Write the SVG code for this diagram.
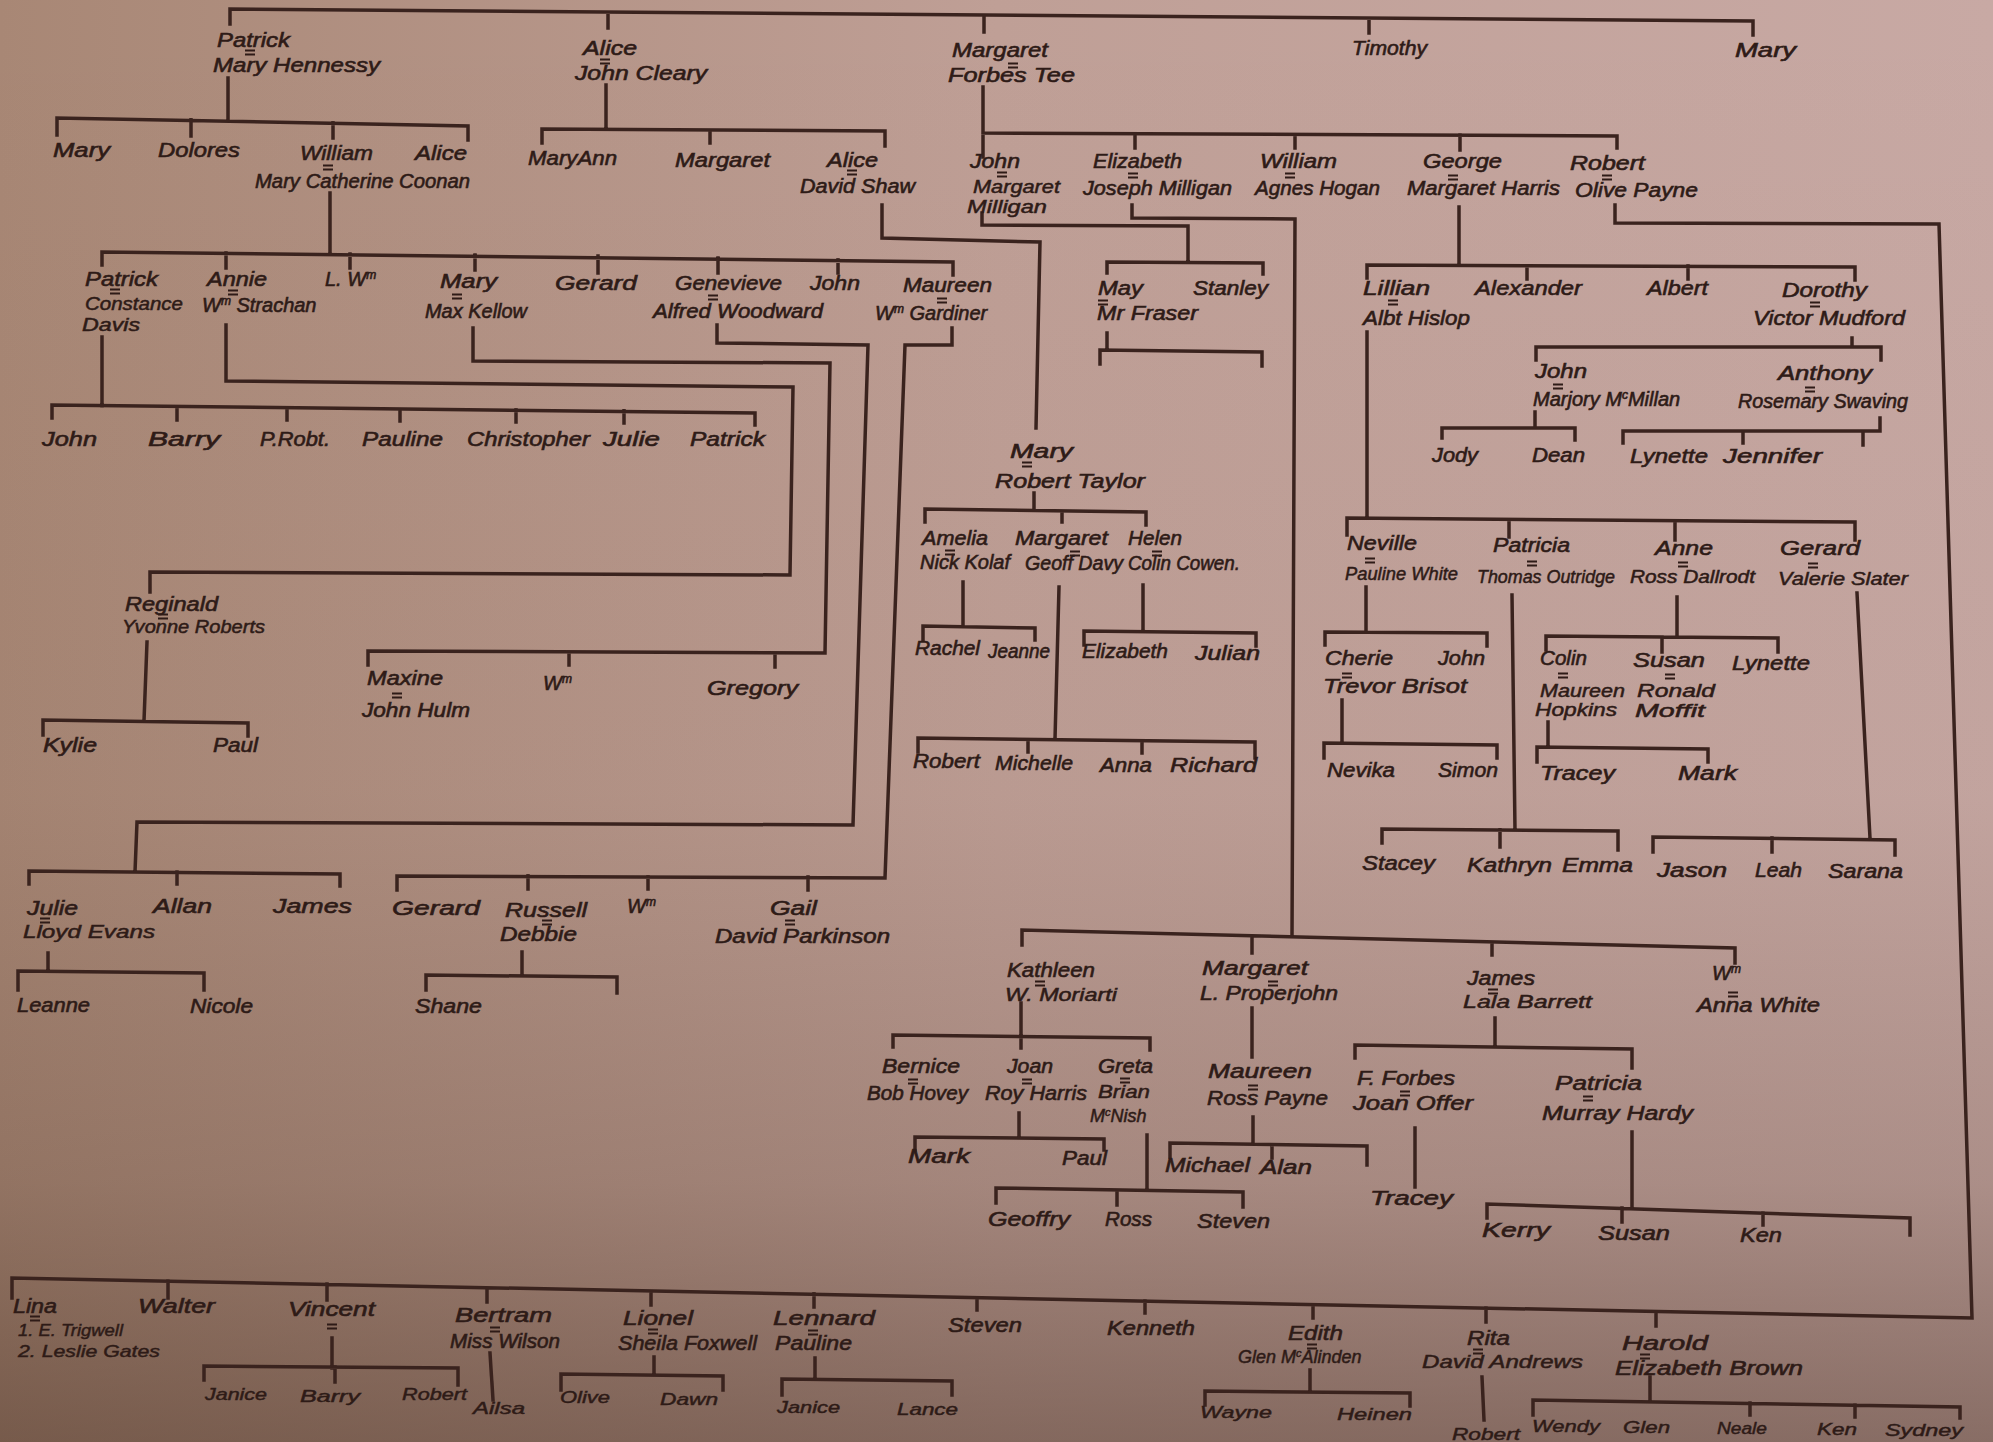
<svg xmlns="http://www.w3.org/2000/svg" xmlns:xlink="http://www.w3.org/1999/xlink" width="1993" height="1442" viewBox="0 0 1993 1442">
<defs>
<linearGradient id="bgH" x1="0" x2="1" y1="0" y2="0"><stop offset="0" stop-color="#a88775"/><stop offset="0.5" stop-color="#bf9f96"/><stop offset="1" stop-color="#c8a9a4"/></linearGradient>
<linearGradient id="bgV" x1="0" x2="0" y1="0" y2="1"><stop offset="0" stop-color="#3a2418" stop-opacity="0"/><stop offset="0.55" stop-color="#3a2418" stop-opacity="0.04"/><stop offset="0.82" stop-color="#3a2418" stop-opacity="0.2"/><stop offset="1" stop-color="#3a2418" stop-opacity="0.45"/></linearGradient>
<path id="eq" d="M-5,-2.5 h10 M-5,1.5 h10" fill="none" stroke="#2e1b17" stroke-width="2.2"/>
<style>
text{font-family:"Liberation Sans",Arial,sans-serif;font-style:italic;font-size:20px;fill:#2e1b17;stroke:#2e1b17;stroke-width:0.6}
text.s{font-size:16px;stroke-width:0.45}
text.t{font-size:18px;stroke-width:0.5}
#connectors path{fill:none;stroke:#3a231e;stroke-width:3.5;stroke-linecap:square;stroke-linejoin:miter}
</style>
</defs>
<rect width="1993" height="1442" fill="url(#bgH)"/>
<rect width="1993" height="1442" fill="url(#bgV)"/>

<g id="connectors">
<path d="M230,24 V9 L1753,21 V35 M608,15 V28 M984,17 V32 M1369,19 V33"/>
<path d="M228,78 V121 M57,135 V118 L468,126 V140 M191,120 V136 M333,123 V138"/>
<path d="M330,193 V253 M102,265 V252 L953,262 V275 M226,253 V268 M350,254 V268 M475,255 V270 M598,256 V273 M718,258 V273 M838,260 V273"/>
<path d="M102,337 V406 M52,418 V405 L755,413 V425 M177,407 V420 M287,408 V420 M400,409 V421 M516,410 V422 M624,411 V423"/>
<path d="M226,325 V381 L793,387 L790,575 L150,572 V592"/>
<path d="M147,642 L144,721 M43,735 V720 L248,723 V736"/>
<path d="M473,328 V361 L830,363 L825,653 L368,651 V665 M569,652 V665 M775,653 V667"/>
<path d="M717,325 V343 L868,345 L853,825 L137,822 L135,872 M29,884 V871 L340,874 V886 M177,872 V884"/>
<path d="M48,953 V971 M18,990 V971 L204,973 V990"/>
<path d="M952,328 V345 L905,345 L885,878 L397,876 V890 M528,876 V889 M648,877 V889 M808,877 V890"/>
<path d="M522,952 V974 M426,990 V975 L617,977 V993"/>
<path d="M606,85 V129 M542,143 V129 L885,131 V146 M710,130 V143"/>
<path d="M882,205 V238 L1040,242 L1036,428"/>
<path d="M1034,493 V510 M925,522 V509 L1146,512 V525 M1062,511 V522"/>
<path d="M963,582 V626 M923,640 V626 L1035,628 V640"/>
<path d="M1059,587 L1055,739 M918,752 V738 L1255,742 V758 M1028,740 V752 M1142,741 V753"/>
<path d="M1143,585 V631 M1084,645 V631 L1256,633 V646"/>
<path d="M983,87 V157 M983,133 L1617,136 V148 M1135,134 V148 M1295,135 V148 M1460,135 V150"/>
<path d="M982,213 V225 L1188,226 V261 M1107,273 V262 L1263,263 V274"/>
<path d="M1107,333 V350 M1100,364 V350 L1262,352 V366"/>
<path d="M1132,205 V218 L1295,219 L1292,937 M1022,945 V930 L1735,948 V963 M1252,936 V953 M1492,942 V955"/>
<path d="M1459,207 V265 M1367,278 V265 L1855,267 V280 M1527,266 V279 M1688,266 V279"/>
<path d="M1852,338 V347 M1536,360 V347 L1881,347 V360"/>
<path d="M1535,412 V428 M1442,438 V428 L1575,428 V440"/>
<path d="M1880,418 V431 M1623,443 V431 L1880,431 M1743,431 V443 M1863,431 V445"/>
<path d="M1615,205 V223 L1939,224 L1972,1318 L12,1278 V1298 M168,1281 V1298 M327,1284 V1300 M487,1288 V1302 M651,1291 V1305 M814,1294 V1307 M977,1298 V1310 M1145,1301 V1313 M1313,1305 V1318 M1486,1308 V1322 M1656,1312 V1326"/>
<path d="M1367,332 V518 M1347,535 V518 L1855,522 V540 M1509,520 V537 M1675,521 V540"/>
<path d="M1366,587 V632 M1325,645 V632 L1487,633 V646"/>
<path d="M1342,700 V742 M1324,758 V743 L1497,745 V758"/>
<path d="M1512,595 L1515,830 M1382,843 V829 L1618,831 V850 M1500,830 V847"/>
<path d="M1677,597 V636 M1546,650 V636 L1778,638 V652 M1662,637 V652"/>
<path d="M1548,722 V747 M1537,762 V747 L1708,749 V762"/>
<path d="M1857,593 L1870,838 M1653,852 V837 L1895,840 V855 M1772,838 V852"/>
<path d="M1021,1003 V1037 M893,1047 V1035 L1150,1038 V1050 M1021,1037 V1048"/>
<path d="M1019,1113 V1137 M915,1150 V1137 L1104,1139 V1150"/>
<path d="M1147,1135 V1189 M996,1203 V1188 L1243,1192 V1207 M1117,1190 V1205"/>
<path d="M1252,1008 V1057"/>
<path d="M1253,1117 V1144 M1170,1157 V1143 L1367,1146 V1165 M1272,1145 V1158"/>
<path d="M1495,1018 V1046 M1355,1058 V1045 L1632,1049 V1068"/>
<path d="M1415,1128 V1187"/>
<path d="M1632,1132 V1207 M1487,1218 V1204 L1910,1218 V1235 M1622,1208 V1222 M1763,1213 V1225"/>
<path d="M332,1338 V1368 M204,1380 V1366 L458,1368 V1385 M335,1367 V1382"/>
<path d="M490,1353 L493,1400"/>
<path d="M654,1357 V1374 M561,1390 V1374 L723,1376 V1390"/>
<path d="M815,1358 V1379 M782,1395 V1379 L952,1381 V1395"/>
<path d="M1310,1370 V1391 M1205,1405 V1391 L1410,1393 V1406"/>
<path d="M1482,1377 L1484,1420"/>
<path d="M1650,1377 V1401 M1533,1415 V1400 L1960,1407 V1418 M1750,1403 V1415 M1855,1405 V1417"/>
</g>

<g id="n-patrick-hennessy"><text x="217" y="47" textLength="73" lengthAdjust="spacingAndGlyphs">Patrick</text><use xlink:href="#eq" href="#eq" x="250" y="53"/><text x="213" y="72" textLength="167" lengthAdjust="spacingAndGlyphs">Mary Hennessy</text></g>
<g id="n-alice-cleary"><text x="583" y="55" textLength="54" lengthAdjust="spacingAndGlyphs">Alice</text><use href="#eq" x="605" y="62"/><text x="575" y="80" textLength="132" lengthAdjust="spacingAndGlyphs">John Cleary</text></g>
<g id="n-margaret-tee"><text x="952" y="57" textLength="96" lengthAdjust="spacingAndGlyphs">Margaret</text><use href="#eq" x="1013" y="66"/><text x="948" y="82" textLength="127" lengthAdjust="spacingAndGlyphs">Forbes Tee</text></g>
<g id="n-timothy"><text x="1352" y="55" textLength="75" lengthAdjust="spacingAndGlyphs">Timothy</text></g>
<g id="n-mary-top"><text x="1735" y="57" textLength="61" lengthAdjust="spacingAndGlyphs">Mary</text></g>

<g id="n-mary-2"><text x="53" y="157" textLength="57" lengthAdjust="spacingAndGlyphs">Mary</text></g>
<g id="n-dolores"><text x="158" y="157" textLength="82" lengthAdjust="spacingAndGlyphs">Dolores</text></g>
<g id="n-william-coonan"><text x="300" y="160" textLength="73" lengthAdjust="spacingAndGlyphs">William</text><use href="#eq" x="328" y="168"/><text x="255" y="188" textLength="215" lengthAdjust="spacingAndGlyphs">Mary Catherine Coonan</text></g>
<g id="n-alice-2"><text x="415" y="160" textLength="52" lengthAdjust="spacingAndGlyphs">Alice</text></g>

<g id="n-maryann"><text x="528" y="165" textLength="89" lengthAdjust="spacingAndGlyphs">MaryAnn</text></g>
<g id="n-margaret-2"><text x="675" y="167" textLength="95" lengthAdjust="spacingAndGlyphs">Margaret</text></g>
<g id="n-alice-shaw"><text x="827" y="167" textLength="51" lengthAdjust="spacingAndGlyphs">Alice</text><use href="#eq" x="852" y="173"/><text x="800" y="193" textLength="115" lengthAdjust="spacingAndGlyphs">David Shaw</text></g>

<g id="n-john-milligan"><text x="970" y="168" textLength="50" lengthAdjust="spacingAndGlyphs">John</text><use href="#eq" x="1002" y="175"/><text class="t" x="973" y="193" textLength="87" lengthAdjust="spacingAndGlyphs">Margaret</text><text class="t" x="967" y="213" textLength="80" lengthAdjust="spacingAndGlyphs">Milligan</text></g>
<g id="n-elizabeth-milligan"><text x="1093" y="168" textLength="89" lengthAdjust="spacingAndGlyphs">Elizabeth</text><use href="#eq" x="1133" y="176"/><text x="1083" y="195" textLength="149" lengthAdjust="spacingAndGlyphs">Joseph Milligan</text></g>
<g id="n-william-hogan"><text x="1260" y="168" textLength="77" lengthAdjust="spacingAndGlyphs">William</text><use href="#eq" x="1290" y="176"/><text x="1255" y="195" textLength="125" lengthAdjust="spacingAndGlyphs">Agnes Hogan</text></g>
<g id="n-george-harris"><text x="1423" y="168" textLength="79" lengthAdjust="spacingAndGlyphs">George</text><use href="#eq" x="1453" y="178"/><text x="1407" y="195" textLength="153" lengthAdjust="spacingAndGlyphs">Margaret Harris</text></g>
<g id="n-robert-payne"><text x="1570" y="170" textLength="75" lengthAdjust="spacingAndGlyphs">Robert</text><use href="#eq" x="1607" y="178"/><text x="1575" y="197" textLength="123" lengthAdjust="spacingAndGlyphs">Olive Payne</text></g>

<g id="n-patrick-davis"><text x="85" y="286" textLength="73" lengthAdjust="spacingAndGlyphs">Patrick</text><use href="#eq" x="115" y="292"/><text class="t" x="85" y="310" textLength="98" lengthAdjust="spacingAndGlyphs">Constance</text><text class="t" x="82" y="331" textLength="58" lengthAdjust="spacingAndGlyphs">Davis</text></g>
<g id="n-annie-strachan"><text x="207" y="286" textLength="60" lengthAdjust="spacingAndGlyphs">Annie</text><use href="#eq" x="233" y="293"/><text x="202" y="312">W<tspan dy="-7" font-size="12">m</tspan><tspan dy="7"> Strachan</tspan></text></g>
<g id="n-l-wm"><text x="325" y="286">L. W<tspan dy="-7" font-size="12">m</tspan></text></g>
<g id="n-mary-kellow"><text x="440" y="288" textLength="57" lengthAdjust="spacingAndGlyphs">Mary</text><use href="#eq" x="457" y="297"/><text x="425" y="318" textLength="102" lengthAdjust="spacingAndGlyphs">Max Kellow</text></g>
<g id="n-gerard-3"><text x="555" y="290" textLength="82" lengthAdjust="spacingAndGlyphs">Gerard</text></g>
<g id="n-genevieve-woodward"><text x="675" y="290" textLength="107" lengthAdjust="spacingAndGlyphs">Genevieve</text><use href="#eq" x="713" y="298"/><text x="653" y="318" textLength="170" lengthAdjust="spacingAndGlyphs">Alfred Woodward</text></g>
<g id="n-john-3"><text x="810" y="290" textLength="50" lengthAdjust="spacingAndGlyphs">John</text></g>
<g id="n-maureen-gardiner"><text x="903" y="292" textLength="89" lengthAdjust="spacingAndGlyphs">Maureen</text><use href="#eq" x="942" y="301"/><text x="875" y="320">W<tspan dy="-7" font-size="12">m</tspan><tspan dy="7"> Gardiner</tspan></text></g>

<g id="n-john-4"><text x="42" y="446" textLength="55" lengthAdjust="spacingAndGlyphs">John</text></g>
<g id="n-barry-4"><text x="148" y="446" textLength="72" lengthAdjust="spacingAndGlyphs">Barry</text></g>
<g id="n-probt"><text x="260" y="446" textLength="70" lengthAdjust="spacingAndGlyphs">P.Robt.</text></g>
<g id="n-pauline-4"><text x="362" y="446" textLength="81" lengthAdjust="spacingAndGlyphs">Pauline</text></g>
<g id="n-christopher"><text x="467" y="446" textLength="123" lengthAdjust="spacingAndGlyphs">Christopher</text></g>
<g id="n-julie-4"><text x="603" y="446" textLength="57" lengthAdjust="spacingAndGlyphs">Julie</text></g>
<g id="n-patrick-4"><text x="690" y="446" textLength="75" lengthAdjust="spacingAndGlyphs">Patrick</text></g>

<g id="n-reginald-roberts"><text x="125" y="611" textLength="93" lengthAdjust="spacingAndGlyphs">Reginald</text><use href="#eq" x="163" y="617"/><text class="t" x="122" y="633" textLength="143" lengthAdjust="spacingAndGlyphs">Yvonne Roberts</text></g>
<g id="n-kylie"><text x="43" y="752" textLength="54" lengthAdjust="spacingAndGlyphs">Kylie</text></g>
<g id="n-paul-5"><text x="213" y="752" textLength="45" lengthAdjust="spacingAndGlyphs">Paul</text></g>

<g id="n-maxine-hulm"><text x="367" y="685" textLength="76" lengthAdjust="spacingAndGlyphs">Maxine</text><use href="#eq" x="397" y="696"/><text x="362" y="717" textLength="108" lengthAdjust="spacingAndGlyphs">John Hulm</text></g>
<g id="n-wm-kellow"><text x="543" y="690">W<tspan dy="-7" font-size="12">m</tspan></text></g>
<g id="n-gregory"><text x="707" y="695" textLength="91" lengthAdjust="spacingAndGlyphs">Gregory</text></g>

<g id="n-julie-evans"><text x="27" y="915" textLength="51" lengthAdjust="spacingAndGlyphs">Julie</text><use href="#eq" x="45" y="921"/><text class="t" x="23" y="938" textLength="132" lengthAdjust="spacingAndGlyphs">Lloyd Evans</text></g>
<g id="n-allan"><text x="153" y="913" textLength="59" lengthAdjust="spacingAndGlyphs">Allan</text></g>
<g id="n-james-4"><text x="273" y="913" textLength="79" lengthAdjust="spacingAndGlyphs">James</text></g>
<g id="n-leanne"><text x="17" y="1012" textLength="73" lengthAdjust="spacingAndGlyphs">Leanne</text></g>
<g id="n-nicole"><text x="190" y="1013" textLength="63" lengthAdjust="spacingAndGlyphs">Nicole</text></g>

<g id="n-gerard-4"><text x="392" y="915" textLength="88" lengthAdjust="spacingAndGlyphs">Gerard</text></g>
<g id="n-russell-debbie"><text x="505" y="917" textLength="82" lengthAdjust="spacingAndGlyphs">Russell</text><use href="#eq" x="547" y="923"/><text x="500" y="941" textLength="77" lengthAdjust="spacingAndGlyphs">Debbie</text></g>
<g id="n-wm-gardiner-child"><text x="627" y="913">W<tspan dy="-7" font-size="12">m</tspan></text></g>
<g id="n-gail-parkinson"><text x="770" y="915" textLength="47" lengthAdjust="spacingAndGlyphs">Gail</text><use href="#eq" x="790" y="923"/><text x="715" y="943" textLength="175" lengthAdjust="spacingAndGlyphs">David Parkinson</text></g>
<g id="n-shane"><text x="415" y="1013" textLength="67" lengthAdjust="spacingAndGlyphs">Shane</text></g>

<g id="n-mary-taylor"><text x="1010" y="458" textLength="63" lengthAdjust="spacingAndGlyphs">Mary</text><use href="#eq" x="1027" y="465"/><text x="995" y="488" textLength="150" lengthAdjust="spacingAndGlyphs">Robert Taylor</text></g>
<g id="n-amelia-kolaf"><text x="922" y="545" textLength="66" lengthAdjust="spacingAndGlyphs">Amelia</text><use href="#eq" x="950" y="553"/><text x="920" y="569" textLength="90" lengthAdjust="spacingAndGlyphs">Nick Kolaf</text></g>
<g id="n-margaret-davy"><text x="1015" y="545" textLength="93" lengthAdjust="spacingAndGlyphs">Margaret</text><use href="#eq" x="1075" y="554"/><text x="1025" y="570" textLength="98" lengthAdjust="spacingAndGlyphs">Geoff Davy</text></g>
<g id="n-helen-cowen"><text x="1128" y="545" textLength="54" lengthAdjust="spacingAndGlyphs">Helen</text><use href="#eq" x="1157" y="554"/><text x="1128" y="570" textLength="112" lengthAdjust="spacingAndGlyphs">Colin Cowen.</text></g>
<g id="n-rachel"><text x="915" y="655" textLength="65" lengthAdjust="spacingAndGlyphs">Rachel</text></g>
<g id="n-jeanne"><text x="988" y="658" textLength="62" lengthAdjust="spacingAndGlyphs">Jeanne</text></g>
<g id="n-elizabeth-6"><text x="1082" y="658" textLength="86" lengthAdjust="spacingAndGlyphs">Elizabeth</text></g>
<g id="n-julian"><text x="1195" y="660" textLength="65" lengthAdjust="spacingAndGlyphs">Julian</text></g>
<g id="n-robert-6"><text x="913" y="768" textLength="67" lengthAdjust="spacingAndGlyphs">Robert</text></g>
<g id="n-michelle"><text x="995" y="770" textLength="78" lengthAdjust="spacingAndGlyphs">Michelle</text></g>
<g id="n-anna"><text x="1100" y="772" textLength="52" lengthAdjust="spacingAndGlyphs">Anna</text></g>
<g id="n-richard"><text x="1170" y="772" textLength="87" lengthAdjust="spacingAndGlyphs">Richard</text></g>

<g id="n-may-fraser"><text x="1098" y="295" textLength="45" lengthAdjust="spacingAndGlyphs">May</text><use href="#eq" x="1103" y="303"/><text x="1097" y="320" textLength="101" lengthAdjust="spacingAndGlyphs">Mr Fraser</text></g>
<g id="n-stanley"><text x="1193" y="295" textLength="75" lengthAdjust="spacingAndGlyphs">Stanley</text></g>

<g id="n-lillian-hislop"><text x="1363" y="295" textLength="67" lengthAdjust="spacingAndGlyphs">Lillian</text><use href="#eq" x="1393" y="303"/><text x="1363" y="325" textLength="107" lengthAdjust="spacingAndGlyphs">Albt Hislop</text></g>
<g id="n-alexander"><text x="1475" y="295" textLength="107" lengthAdjust="spacingAndGlyphs">Alexander</text></g>
<g id="n-albert"><text x="1647" y="295" textLength="61" lengthAdjust="spacingAndGlyphs">Albert</text></g>
<g id="n-dorothy-mudford"><text x="1782" y="297" textLength="85" lengthAdjust="spacingAndGlyphs">Dorothy</text><use href="#eq" x="1815" y="305"/><text x="1753" y="325" textLength="152" lengthAdjust="spacingAndGlyphs">Victor Mudford</text></g>
<g id="n-john-mcmillan"><text x="1535" y="378" textLength="52" lengthAdjust="spacingAndGlyphs">John</text><use href="#eq" x="1558" y="387"/><text x="1533" y="406">Marjory M<tspan dy="-7" font-size="12">c</tspan><tspan dy="7">Millan</tspan></text></g>
<g id="n-anthony-swaving"><text x="1778" y="380" textLength="94" lengthAdjust="spacingAndGlyphs">Anthony</text><use href="#eq" x="1810" y="390"/><text x="1738" y="408" textLength="170" lengthAdjust="spacingAndGlyphs">Rosemary Swaving</text></g>
<g id="n-jody"><text x="1432" y="462" textLength="46" lengthAdjust="spacingAndGlyphs">Jody</text></g>
<g id="n-dean"><text x="1532" y="462" textLength="53" lengthAdjust="spacingAndGlyphs">Dean</text></g>
<g id="n-lynette-1"><text x="1630" y="463" textLength="78" lengthAdjust="spacingAndGlyphs">Lynette</text></g>
<g id="n-jennifer"><text x="1723" y="463" textLength="99" lengthAdjust="spacingAndGlyphs">Jennifer</text></g>

<g id="n-neville-white"><text x="1347" y="550" textLength="70" lengthAdjust="spacingAndGlyphs">Neville</text><use href="#eq" x="1370" y="561"/><text class="t" x="1345" y="580" textLength="113" lengthAdjust="spacingAndGlyphs">Pauline White</text></g>
<g id="n-patricia-outridge"><text x="1493" y="552" textLength="77" lengthAdjust="spacingAndGlyphs">Patricia</text><use href="#eq" x="1532" y="564"/><text class="t" x="1477" y="583" textLength="138" lengthAdjust="spacingAndGlyphs">Thomas Outridge</text></g>
<g id="n-anne-dallrodt"><text x="1655" y="555" textLength="58" lengthAdjust="spacingAndGlyphs">Anne</text><use href="#eq" x="1683" y="565"/><text class="t" x="1630" y="583" textLength="125" lengthAdjust="spacingAndGlyphs">Ross Dallrodt</text></g>
<g id="n-gerard-slater"><text x="1780" y="555" textLength="80" lengthAdjust="spacingAndGlyphs">Gerard</text><use href="#eq" x="1813" y="566"/><text class="t" x="1778" y="585" textLength="130" lengthAdjust="spacingAndGlyphs">Valerie Slater</text></g>
<g id="n-cherie-brisot"><text x="1325" y="665" textLength="68" lengthAdjust="spacingAndGlyphs">Cherie</text><use href="#eq" x="1347" y="676"/><text x="1323" y="693" textLength="144" lengthAdjust="spacingAndGlyphs">Trevor Brisot</text></g>
<g id="n-john-6"><text x="1438" y="665" textLength="47" lengthAdjust="spacingAndGlyphs">John</text></g>
<g id="n-nevika"><text x="1327" y="777" textLength="68" lengthAdjust="spacingAndGlyphs">Nevika</text></g>
<g id="n-simon"><text x="1438" y="777" textLength="60" lengthAdjust="spacingAndGlyphs">Simon</text></g>
<g id="n-stacey"><text x="1362" y="870" textLength="73" lengthAdjust="spacingAndGlyphs">Stacey</text></g>
<g id="n-kathryn"><text x="1467" y="872" textLength="85" lengthAdjust="spacingAndGlyphs">Kathryn</text></g>
<g id="n-emma"><text x="1562" y="872" textLength="71" lengthAdjust="spacingAndGlyphs">Emma</text></g>
<g id="n-colin-hopkins"><text x="1540" y="665" textLength="47" lengthAdjust="spacingAndGlyphs">Colin</text><use href="#eq" x="1563" y="676"/><text class="t" x="1540" y="697" textLength="85" lengthAdjust="spacingAndGlyphs">Maureen</text><text class="t" x="1535" y="716" textLength="82" lengthAdjust="spacingAndGlyphs">Hopkins</text></g>
<g id="n-susan-moffit"><text x="1633" y="667" textLength="72" lengthAdjust="spacingAndGlyphs">Susan</text><use href="#eq" x="1670" y="677"/><text class="t" x="1637" y="697" textLength="78" lengthAdjust="spacingAndGlyphs">Ronald</text><text class="t" x="1635" y="717" textLength="70" lengthAdjust="spacingAndGlyphs">Moffit</text></g>
<g id="n-lynette-2"><text x="1732" y="670" textLength="78" lengthAdjust="spacingAndGlyphs">Lynette</text></g>
<g id="n-tracey-1"><text x="1540" y="780" textLength="75" lengthAdjust="spacingAndGlyphs">Tracey</text></g>
<g id="n-mark-1"><text x="1678" y="780" textLength="59" lengthAdjust="spacingAndGlyphs">Mark</text></g>
<g id="n-jason"><text x="1657" y="877" textLength="70" lengthAdjust="spacingAndGlyphs">Jason</text></g>
<g id="n-leah"><text x="1755" y="877" textLength="47" lengthAdjust="spacingAndGlyphs">Leah</text></g>
<g id="n-sarana"><text x="1828" y="878" textLength="75" lengthAdjust="spacingAndGlyphs">Sarana</text></g>

<g id="n-kathleen-moriarti"><text x="1007" y="977" textLength="88" lengthAdjust="spacingAndGlyphs">Kathleen</text><use href="#eq" x="1040" y="984"/><text class="t" x="1005" y="1001" textLength="112" lengthAdjust="spacingAndGlyphs">W. Moriarti</text></g>
<g id="n-margaret-properjohn"><text x="1202" y="975" textLength="106" lengthAdjust="spacingAndGlyphs">Margaret</text><use href="#eq" x="1273" y="984"/><text x="1200" y="1000" textLength="138" lengthAdjust="spacingAndGlyphs">L. Properjohn</text></g>
<g id="n-james-barrett"><text x="1467" y="985" textLength="68" lengthAdjust="spacingAndGlyphs">James</text><use href="#eq" x="1493" y="992"/><text class="t" x="1463" y="1008" textLength="129" lengthAdjust="spacingAndGlyphs">Lala Barrett</text></g>
<g id="n-wm-white"><text x="1712" y="980">W<tspan dy="-7" font-size="12">m</tspan></text><use href="#eq" x="1733" y="995"/><text x="1697" y="1012" textLength="123" lengthAdjust="spacingAndGlyphs">Anna White</text></g>
<g id="n-bernice-hovey"><text x="882" y="1073" textLength="78" lengthAdjust="spacingAndGlyphs">Bernice</text><use href="#eq" x="913" y="1082"/><text x="867" y="1100" textLength="101" lengthAdjust="spacingAndGlyphs">Bob Hovey</text></g>
<g id="n-joan-harris"><text x="1007" y="1073" textLength="46" lengthAdjust="spacingAndGlyphs">Joan</text><use href="#eq" x="1027" y="1082"/><text x="985" y="1100" textLength="102" lengthAdjust="spacingAndGlyphs">Roy Harris</text></g>
<g id="n-greta-mcnish"><text x="1098" y="1073" textLength="55" lengthAdjust="spacingAndGlyphs">Greta</text><use href="#eq" x="1125" y="1081"/><text class="t" x="1098" y="1098" textLength="52" lengthAdjust="spacingAndGlyphs">Brian</text><text class="t" x="1090" y="1122">M<tspan dy="-6" font-size="11">c</tspan><tspan dy="6">Nish</tspan></text></g>
<g id="n-mark-2"><text x="908" y="1163" textLength="62" lengthAdjust="spacingAndGlyphs">Mark</text></g>
<g id="n-paul-2"><text x="1062" y="1165" textLength="45" lengthAdjust="spacingAndGlyphs">Paul</text></g>
<g id="n-geoffry"><text x="988" y="1226" textLength="82" lengthAdjust="spacingAndGlyphs">Geoffry</text></g>
<g id="n-ross"><text x="1105" y="1226" textLength="47" lengthAdjust="spacingAndGlyphs">Ross</text></g>
<g id="n-steven-1"><text x="1197" y="1228" textLength="73" lengthAdjust="spacingAndGlyphs">Steven</text></g>
<g id="n-maureen-payne"><text x="1208" y="1078" textLength="104" lengthAdjust="spacingAndGlyphs">Maureen</text><use href="#eq" x="1253" y="1088"/><text x="1207" y="1105" textLength="121" lengthAdjust="spacingAndGlyphs">Ross Payne</text></g>
<g id="n-michael"><text x="1165" y="1172" textLength="85" lengthAdjust="spacingAndGlyphs">Michael</text></g>
<g id="n-alan"><text x="1260" y="1174" textLength="52" lengthAdjust="spacingAndGlyphs">Alan</text></g>
<g id="n-forbes-offer"><text x="1357" y="1085" textLength="98" lengthAdjust="spacingAndGlyphs">F. Forbes</text><use href="#eq" x="1405" y="1094"/><text x="1353" y="1110" textLength="120" lengthAdjust="spacingAndGlyphs">Joan Offer</text></g>
<g id="n-patricia-hardy"><text x="1555" y="1090" textLength="87" lengthAdjust="spacingAndGlyphs">Patricia</text><use href="#eq" x="1588" y="1099"/><text x="1542" y="1120" textLength="151" lengthAdjust="spacingAndGlyphs">Murray Hardy</text></g>
<g id="n-tracey-2"><text x="1370" y="1205" textLength="83" lengthAdjust="spacingAndGlyphs">Tracey</text></g>
<g id="n-kerry"><text x="1482" y="1237" textLength="68" lengthAdjust="spacingAndGlyphs">Kerry</text></g>
<g id="n-susan-2"><text x="1598" y="1240" textLength="72" lengthAdjust="spacingAndGlyphs">Susan</text></g>
<g id="n-ken-1"><text x="1740" y="1242" textLength="42" lengthAdjust="spacingAndGlyphs">Ken</text></g>

<g id="n-lina"><text x="13" y="1313" textLength="44" lengthAdjust="spacingAndGlyphs">Lina</text><use href="#eq" x="35" y="1319"/><text class="s" x="18" y="1336" textLength="105" lengthAdjust="spacingAndGlyphs">1. E. Trigwell</text><text class="s" x="18" y="1357" textLength="142" lengthAdjust="spacingAndGlyphs">2. Leslie Gates</text></g>
<g id="n-walter"><text x="138" y="1313" textLength="77" lengthAdjust="spacingAndGlyphs">Walter</text></g>
<g id="n-vincent"><text x="288" y="1316" textLength="87" lengthAdjust="spacingAndGlyphs">Vincent</text><use href="#eq" x="332" y="1327"/></g>
<g id="n-janice-1"><text class="s" x="205" y="1400" textLength="62" lengthAdjust="spacingAndGlyphs">Janice</text></g>
<g id="n-barry-2"><text class="s" x="300" y="1402" textLength="60" lengthAdjust="spacingAndGlyphs">Barry</text></g>
<g id="n-robert-b1"><text class="s" x="402" y="1400" textLength="65" lengthAdjust="spacingAndGlyphs">Robert</text></g>
<g id="n-bertram-wilson"><text x="455" y="1322" textLength="97" lengthAdjust="spacingAndGlyphs">Bertram</text><use href="#eq" x="495" y="1330"/><text x="450" y="1348" textLength="110" lengthAdjust="spacingAndGlyphs">Miss Wilson</text></g>
<g id="n-ailsa"><text class="s" x="473" y="1414" textLength="52" lengthAdjust="spacingAndGlyphs">Ailsa</text></g>
<g id="n-lionel-foxwell"><text x="623" y="1325" textLength="70" lengthAdjust="spacingAndGlyphs">Lionel</text><use href="#eq" x="653" y="1332"/><text x="618" y="1350" textLength="139" lengthAdjust="spacingAndGlyphs">Sheila Foxwell</text></g>
<g id="n-olive"><text class="s" x="560" y="1403" textLength="50" lengthAdjust="spacingAndGlyphs">Olive</text></g>
<g id="n-dawn"><text class="s" x="660" y="1405" textLength="58" lengthAdjust="spacingAndGlyphs">Dawn</text></g>
<g id="n-lennard-pauline"><text x="773" y="1325" textLength="102" lengthAdjust="spacingAndGlyphs">Lennard</text><use href="#eq" x="813" y="1333"/><text x="775" y="1350" textLength="77" lengthAdjust="spacingAndGlyphs">Pauline</text></g>
<g id="n-janice-2"><text class="s" x="777" y="1413" textLength="63" lengthAdjust="spacingAndGlyphs">Janice</text></g>
<g id="n-lance"><text class="s" x="897" y="1415" textLength="61" lengthAdjust="spacingAndGlyphs">Lance</text></g>
<g id="n-steven-2"><text x="948" y="1332" textLength="74" lengthAdjust="spacingAndGlyphs">Steven</text></g>
<g id="n-kenneth"><text x="1107" y="1335" textLength="88" lengthAdjust="spacingAndGlyphs">Kenneth</text></g>
<g id="n-edith-mcalinden"><text x="1288" y="1340" textLength="55" lengthAdjust="spacingAndGlyphs">Edith</text><use href="#eq" x="1312" y="1347"/><text class="t" x="1238" y="1363">Glen M<tspan dy="-6" font-size="11">c</tspan><tspan dy="6">Alinden</tspan></text></g>
<g id="n-wayne"><text class="s" x="1200" y="1418" textLength="72" lengthAdjust="spacingAndGlyphs">Wayne</text></g>
<g id="n-heinen"><text class="s" x="1337" y="1420" textLength="75" lengthAdjust="spacingAndGlyphs">Heinen</text></g>
<g id="n-rita-andrews"><text x="1467" y="1345" textLength="43" lengthAdjust="spacingAndGlyphs">Rita</text><use href="#eq" x="1478" y="1352"/><text class="t" x="1422" y="1368" textLength="161" lengthAdjust="spacingAndGlyphs">David Andrews</text></g>
<g id="n-robert-b2"><text class="s" x="1452" y="1440" textLength="68" lengthAdjust="spacingAndGlyphs">Robert</text></g>
<g id="n-harold-brown"><text x="1622" y="1350" textLength="86" lengthAdjust="spacingAndGlyphs">Harold</text><use href="#eq" x="1645" y="1357"/><text x="1615" y="1375" textLength="188" lengthAdjust="spacingAndGlyphs">Elizabeth Brown</text></g>
<g id="n-wendy"><text class="s" x="1532" y="1432" textLength="68" lengthAdjust="spacingAndGlyphs">Wendy</text></g>
<g id="n-glen"><text class="s" x="1623" y="1433" textLength="47" lengthAdjust="spacingAndGlyphs">Glen</text></g>
<g id="n-neale"><text class="s" x="1717" y="1434" textLength="50" lengthAdjust="spacingAndGlyphs">Neale</text></g>
<g id="n-ken-2"><text class="s" x="1817" y="1435" textLength="40" lengthAdjust="spacingAndGlyphs">Ken</text></g>
<g id="n-sydney"><text class="s" x="1885" y="1436" textLength="78" lengthAdjust="spacingAndGlyphs">Sydney</text></g>
</svg>
